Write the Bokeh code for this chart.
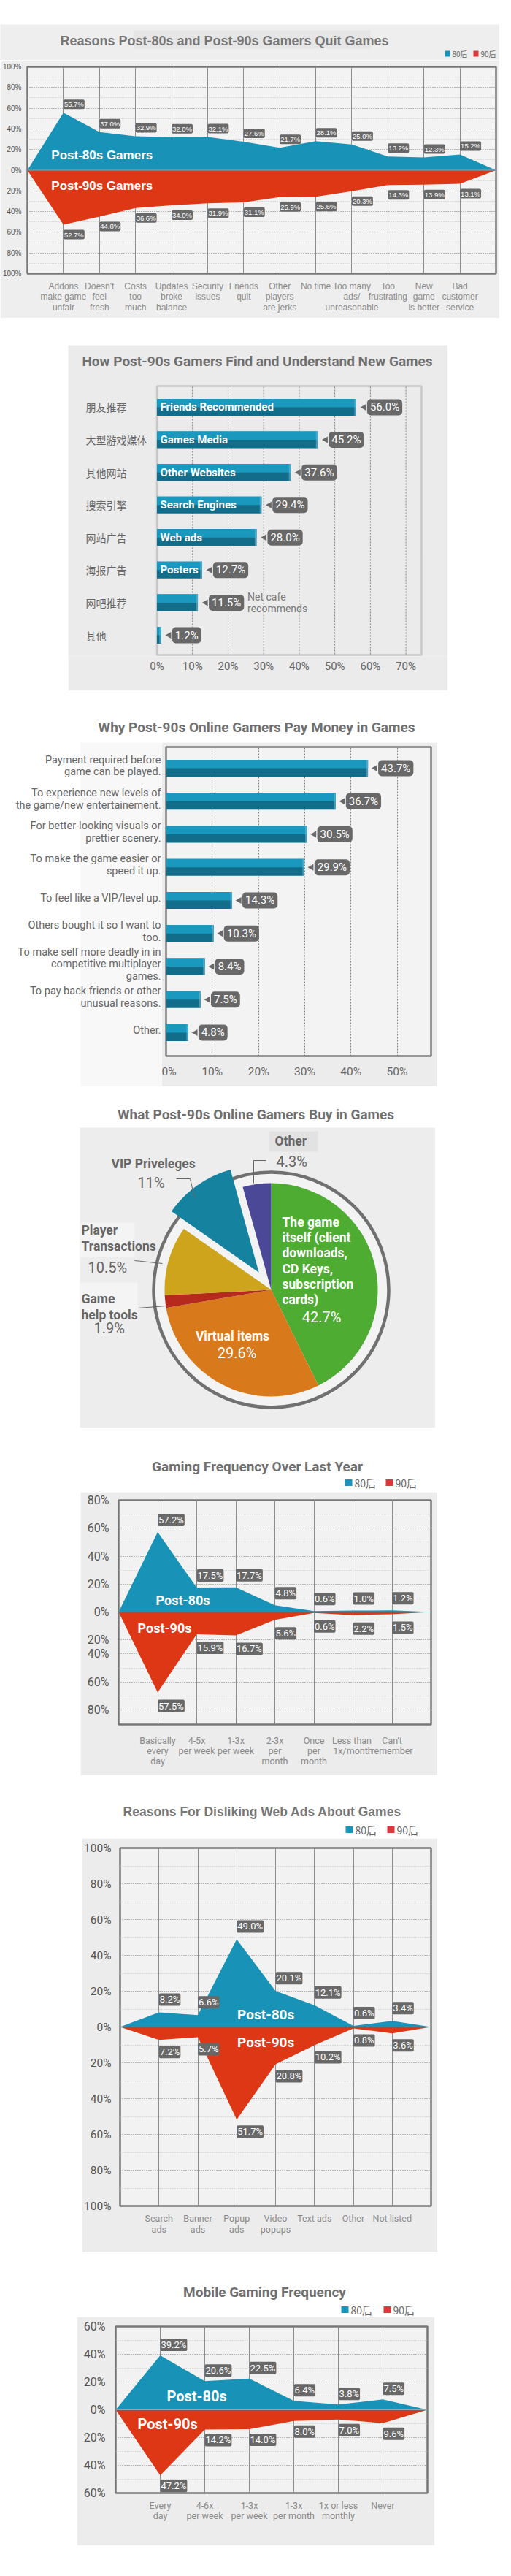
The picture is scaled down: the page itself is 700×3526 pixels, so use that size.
import numpy as np
from bokeh.plotting import figure
from bokeh.layouts import column, row
from bokeh.models import Range1d, FixedTicker, BoxAnnotation, Span, ColumnDataSource, Spacer
from bokeh.core.properties import value
from bokeh.embed import file_html
from bokeh.resources import INLINE

# ======================= DATA =======================
legend_names = ["80后", "90后"]
series_long = ["Post-80s Gamers", "Post-90s Gamers"]
series_short = ["Post-80s", "Post-90s"]

quit_title = "Reasons Post-80s and Post-90s Gamers Quit Games"
quit_cats = ["Addons\nmake game\nunfair", "Doesn't\nfeel\nfresh", "Costs\ntoo\nmuch",
             "Updates\nbroke\nbalance", "Security\nissues", "Friends\nquit",
             "Other\nplayers\nare jerks", "No time", "Too many\nads/\nunreasonable",
             "Too\nfrustrating", "New\ngame\nis better", "Bad\ncustomer\nservice"]
quit_80 = [55.7, 37.0, 32.9, 32.0, 32.1, 27.6, 21.7, 28.1, 25.0, 13.2, 12.3, 15.2]
quit_90 = [52.7, 44.8, 36.6, 34.0, 31.9, 31.1, 25.9, 25.6, 20.3, 14.3, 13.9, 13.1]
quit_yticks = [-100, -80, -60, -40, -20, 0, 20, 40, 60, 80, 100]
quit_yminor = [-90, -70, -50, -30, -10, 10, 30, 50, 70, 90]

find_title = "How Post-90s Gamers Find and Understand New Games"
find_cn = ["朋友推荐", "大型游戏媒体", "其他网站", "搜索引擎", "网站广告", "海报广告", "网吧推荐", "其他"]
find_en = ["Friends Recommended", "Games Media", "Other Websites", "Search Engines",
           "Web ads", "Posters", "", ""]
find_note = ["", "", "", "", "", "", "Net cafe\nrecommends", ""]
find_vals = [56.0, 45.2, 37.6, 29.4, 28.0, 12.7, 11.5, 1.2]
find_xticks = [0, 10, 20, 30, 40, 50, 60, 70]

pay_title = "Why Post-90s Online Gamers Pay Money in Games"
pay_cats = ["Payment required before\ngame can be played.",
            "To experience new levels of\nthe game/new entertainement.",
            "For better-looking visuals or\nprettier scenery.",
            "To make the game easier or\nspeed it up.",
            "To feel like a VIP/level up.",
            "Others bought it so I want to\ntoo.",
            "To make self more deadly in in\ncompetitive multiplayer\ngames.",
            "To pay back friends or other\nunusual reasons.",
            "Other."]
pay_vals = [43.7, 36.7, 30.5, 29.9, 14.3, 10.3, 8.4, 7.5, 4.8]
pay_xticks = [0, 10, 20, 30, 40, 50]

buy_title = "What Post-90s Online Gamers Buy in Games"
buy_cats = ["The game\nitself (client\ndownloads,\nCD Keys,\nsubscription\ncards)",
            "Virtual items", "Game\nhelp tools", "Player\nTransactions", "VIP Priveleges", "Other"]
buy_vals = [42.7, 29.6, 1.9, 10.5, 11.0, 4.3]

freq_title = "Gaming Frequency Over Last Year"
freq_cats = ["Basically\nevery\nday", "4-5x\nper week", "1-3x\nper week", "2-3x\nper\nmonth",
             "Once\nper\nmonth", "Less  than\n1x/month", "Can't\nremember"]
freq_80 = [57.2, 17.5, 17.7, 4.8, 0.6, 1.0, 1.2]
freq_90 = [57.5, 15.9, 16.7, 5.6, 0.6, 2.2, 1.5]
freq_yticks = [80, 60, 40, 20, 0, -20, -30, -50, -70]
freq_ylabels = ["80%", "60%", "40%", "20%", "0%", "20%", "40%", "60%", "80%"]
freq_yminor = [70, 50, 30, 10, -10, -40, -60]

ads_title = "Reasons For Disliking Web Ads About Games"
ads_cats = ["Search\nads", "Banner\nads", "Popup\nads", "Video\npopups", "Text ads", "Other", "Not listed"]
ads_80 = [8.2, 6.6, 49.0, 20.1, 12.1, 0.6, 3.4]
ads_90 = [7.2, 5.7, 51.7, 20.8, 10.2, 0.8, 3.6]
ads_yticks = [-100, -80, -60, -40, -20, 0, 20, 40, 60, 80, 100]
ads_yminor = [-90, -70, -50, -30, -10, 10, 30, 50, 70, 90]

mob_title = "Mobile Gaming Frequency"
mob_cats = ["Every\nday", "4-6x\nper week", "1-3x\nper week", "1-3x\nper month", "1x or less\nmonthly", "Never"]
mob_80 = [39.2, 20.6, 22.5, 6.4, 3.8, 7.5]
mob_90 = [47.2, 14.2, 14.0, 8.0, 7.0, 9.6]
mob_yticks = [-60, -40, -20, 0, 20, 40, 60]
mob_yminor = [-50, -30, -10, 10, 30, 50]

# ======================= STYLE =======================
BLUE = "#1893b7"
RED = "#dd3716"
LEG_BLUE = "#1a93bb"
LEG_RED = "#d8393a"
BOXC = "#686868"
TITLE_C = "#6f6f6f"
BAR_DARK = "#116d8a"
BAR_LIGHT = "#1a98be"


def hide_guides(p):
    p.xaxis.visible = False
    p.yaxis.visible = False
    p.xgrid.visible = False
    p.ygrid.visible = False


def header(y0, y1, bg="white"):
    """Strip holding a title/legend; its coordinates are page pixels."""
    p = figure(width=684, height=y1 - y0, x_range=Range1d(8, 692), y_range=Range1d(y1, y0),
               min_border_left=0, min_border_right=0, min_border_top=0, min_border_bottom=0,
               output_backend="svg", toolbar_location=None, border_fill_color=bg,
               background_fill_color=bg, outline_line_color=None)
    hide_guides(p)
    return p


def add_title(p, x, y, text, size, color=TITLE_C, font="Roboto"):
    p.text(x=[x], y=[y], text=[text], text_font=value(font), text_font_style="bold",
           text_font_size=f"{size}px", text_color=color, text_align="center",
           text_baseline="middle")


def add_legend(p, xb, xr_, y, size, sq_w=10, sq_h=9):
    p.quad(left=[xb, xr_], right=[xb + sq_w, xr_ + sq_w], top=[y - sq_h / 2] * 2,
           bottom=[y + sq_h / 2] * 2, fill_color=[LEG_BLUE, LEG_RED], line_color=None)
    p.text(x=[xb + sq_w + 3, xr_ + sq_w + 3], y=[y, y], text=legend_names,
           text_font=value("Noto Sans CJK SC"), text_font_size=f"{size}px",
           text_color="#666666", text_align="left", text_baseline="middle")


class PFig:
    """Panel figure covering page pixels x0..x1, y0..y1; plot frame at L..R, T..B."""
    def __init__(self, x0, x1, y0, y1, L, R, T, B, xr, yr, border, bg):
        self.x0, self.h = x0, y1 - y0
        self.L, self.R, self.T, self.B = L, R, T, B
        self.xr, self.yr = xr, yr
        p = figure(width=x1 - x0, height=y1 - y0,
                   x_range=Range1d(*xr), y_range=Range1d(*yr),
                   min_border_left=L - x0, min_border_right=x1 - R,
                   min_border_top=T - y0, min_border_bottom=y1 - B,
                   output_backend="svg", toolbar_location=None,
                   border_fill_color=border, background_fill_color=bg,
                   outline_line_color=None)
        hide_guides(p)
        self.p = p

    def dx(self, px):
        return self.xr[0] + (px - self.L) * (self.xr[1] - self.xr[0]) / (self.R - self.L)

    def dy(self, py):
        return self.yr[1] - (py - self.T) * (self.yr[1] - self.yr[0]) / (self.B - self.T)

    def box(self, x0, x1, y0, y1, color, level="image", line=None, lw=0):
        self.p.add_layout(BoxAnnotation(left=self.dx(x0), right=self.dx(x1),
                                        top=self.dy(y0), bottom=self.dy(y1),
                                        fill_color=color if color else "white",
                                        fill_alpha=1.0 if color else 0.0,
                                        line_color=line, line_width=lw, level=level))

    def item(self):
        # wrapped in its own row so that the column does not align plot frames
        if self.x0 > 8:
            return row(Spacer(width=self.x0 - 8, height=self.h), self.p, spacing=0)
        return row(self.p, spacing=0)


def axis_style(ax, font, size, color, standoff, lh=1.0):
    ax.visible = True
    ax.axis_line_color = None
    ax.major_tick_line_color = None
    ax.minor_tick_line_color = None
    ax.major_tick_out = 0
    ax.major_tick_in = 0
    ax.minor_tick_out = 0
    ax.minor_tick_in = 0
    ax.major_label_text_font = font
    ax.major_label_text_font_size = f"{size}px"
    ax.major_label_text_color = color
    ax.major_label_standoff = standoff
    ax.major_label_text_line_height = lh


def area_chart(c, cats, v80, v90, yticks, ylabels, yminor, xfont, xsize, xstandoff, xlh,
               yfont, ysize, ystandoff, names, name_pos, name_font, name_size,
               lab_font, lab_size, off80, off90, lab_pad):
    p = c.p
    n = len(cats)
    p.xaxis.ticker = FixedTicker(ticks=list(range(1, n + 1)))
    p.xaxis.major_label_overrides = {i + 1: cats[i] for i in range(n)}
    axis_style(p.xaxis, xfont, xsize, "#8a8a8a", xstandoff, xlh)
    p.yaxis.ticker = FixedTicker(ticks=yticks, minor_ticks=yminor)
    p.yaxis.major_label_overrides = {t: l for t, l in zip(yticks, ylabels)}
    axis_style(p.yaxis, yfont, ysize, "#555555", ystandoff)
    p.xgrid.visible = True
    p.xgrid.ticker = FixedTicker(ticks=list(range(1, n + 1)))
    p.xgrid.grid_line_color = "#8c8c8c"
    p.xgrid.grid_line_width = 1
    p.ygrid.visible = True
    p.ygrid.ticker = FixedTicker(ticks=yticks, minor_ticks=yminor)
    p.ygrid.grid_line_color = "#7d7d7d"
    p.ygrid.grid_line_dash = "1 2"
    p.ygrid.minor_grid_line_color = "#c0c0c0"
    p.ygrid.minor_grid_line_dash = "1 2"
    p.outline_line_color = "#777777"
    p.outline_line_width = 2.5
    src = ColumnDataSource(dict(x=list(range(n + 2)),
                                a=[0] + list(v80) + [0],
                                b=[0] + [-v for v in v90] + [0]))
    p.varea(x="x", y1=0, y2="a", source=src, fill_color=BLUE)
    p.varea(x="x", y1=0, y2="b", source=src, fill_color=RED)
    p.add_layout(Span(location=0, dimension="width", line_color="#86a9b3", line_width=1.2))
    ls = ColumnDataSource(dict(x=list(range(1, n + 1)), y80=list(v80), y90=[-v for v in v90],
                               t80=[f"{v:.1f}%" for v in v80], t90=[f"{v:.1f}%" for v in v90]))
    common = dict(source=ls, text_font=value(lab_font), text_font_size=f"{lab_size}px",
                  text_color="white", background_fill_color=BOXC, padding=lab_pad,
                  border_radius=2)
    p.text(x="x", y="y80", text="t80", anchor="bottom_left", y_offset=-off80, **common)
    p.text(x="x", y="y90", text="t90", anchor="top_left", y_offset=off90, **common)
    (x8, y8), (x9, y9) = name_pos
    p.text(x=[c.dx(x8), c.dx(x9)], y=[c.dy(y8), c.dy(y9)], text=names,
           text_font=value(name_font), text_font_style="bold", text_font_size=f"{name_size}px",
           text_color="white", text_align="left", text_baseline="middle")


def bar_chart(c, vals, ypx_unit, bh_px, box_off, val_size):
    p = c.p
    n = len(vals)
    ys = [n - 1 - i for i in range(n)]
    bh = bh_px / ypx_unit
    xpu = (c.R - c.L) / (c.xr[1] - c.xr[0])
    src = ColumnDataSource(dict(y=ys, v=vals, ytop=[y + bh / 4 for y in ys],
                                tri=[v + (box_off - 4) / xpu for v in vals],
                                cap=[v - 2.5 / xpu for v in vals],
                                t=[f"{v:.1f}%" for v in vals]))
    p.hbar(y="y", left=0, right="v", height=bh, source=src, fill_color=BAR_DARK, line_color=None)
    p.hbar(y="ytop", left=0, right="v", height=bh / 2, source=src, fill_color=BAR_LIGHT,
           line_color=None)
    p.hbar(y="y", left="cap", right="v", height=bh, source=src, fill_color="#6fbcd6",
           fill_alpha=0.55, line_color=None)
    p.scatter(x="tri", y="y", source=src, marker="triangle", angle=np.pi / 2, size=9,
              fill_color=BOXC, line_color=None)
    p.text(x="v", y="y", text="t", source=src, x_offset=box_off, anchor="center_left",
           text_font=value("Roboto"), text_font_size=f"{val_size}px", text_color="white",
           background_fill_color=BOXC, padding=(4, 2), border_radius=5)
    return src


items = []

# ======================= CHART 1 =======================
items.append(Spacer(width=684, height=33))
h1 = header(41, 90, bg="#eeeeee")
h1.quad(left=[191], right=[515], top=[49], bottom=[74], fill_color="#e6e6e6", line_color=None)
add_title(h1, 315, 63, quit_title, 18, "#777777", "Liberation Sans")
add_legend(h1, 617, 656, 81, 10, sq_w=7, sq_h=8)
items.append(row(h1, spacing=0))
c1 = PFig(8, 692, 90, 443, 41, 687, 99, 382, (0, 13), (-100, 100), "#eeeeee", "#f3f3f3")
area_chart(c1, quit_cats, quit_80, quit_90, quit_yticks,
           [f"{abs(t)}%" for t in quit_yticks], quit_yminor,
           "Liberation Sans", 12, 10, 1.05, "Liberation Sans", 10, 8,
           series_long, [(74, 220), (74, 262)], "Liberation Sans", 17,
           "Liberation Sans", 9.5, 5, 7, 1)
items.append(c1.item())
items.append(Spacer(width=684, height=19))

# ======================= CHART 2 =======================
items.append(Spacer(width=684, height=18))
X2U, Y2U = 4.873, 44.58
c2 = PFig(101, 621, 480, 953, 101, 621, 480, 906,
          ((101 - 222.5) / X2U, (621 - 222.5) / X2U),
          (-(906 - 877) / Y2U, 7 + (565 - 480) / Y2U), "#ebebeb", "#ebebeb")
p2 = c2.p
c2.box(222.5, 585, 536, 904, None, level="underlay", line="#7a7a7a", lw=2.5)
p2.segment(x0=find_xticks[1:], x1=find_xticks[1:], y0=c2.dy(537), y1=c2.dy(903),
           line_color="#808080", line_dash="2 2", line_width=1)
p2.xaxis.ticker = FixedTicker(ticks=find_xticks)
p2.xaxis.major_label_overrides = {t: f"{t}%" for t in find_xticks}
axis_style(p2.xaxis, "Roboto", 15, "#666666", 4)
add_title(p2, c2.dx(360), c2.dy(502), find_title, 19)
s2 = bar_chart(c2, find_vals, Y2U, 23, 15, 15)
s2.data["en"] = find_en
s2.data["note"] = find_note
s2.data["cn"] = find_cn
p2.text(x=c2.dx(227), y="y", text="en", source=s2, text_font=value("Roboto"),
        text_font_style="bold", text_font_size="15px", text_color="white",
        text_align="left", text_baseline="middle")
p2.text(x="v", y="y", text="note", source=s2, x_offset=68, text_font=value("Roboto"),
        text_font_size="14px", text_color="#777777", text_align="left",
        text_baseline="middle", text_line_height=0.95)
p2.text(x=c2.dx(125), y="y", text="cn", source=s2, text_font=value("Noto Sans CJK SC"),
        text_font_size="14px", text_color="#666666", text_align="left", text_baseline="middle")
items.append(c2.item())
items.append(Spacer(width=684, height=12))

# ======================= CHART 3 =======================
h3 = header(965, 1024)
add_title(h3, 359, 1003, pay_title, 19)
items.append(row(h3, spacing=0))
X3U, Y3U = 6.33, 45.24
c3 = PFig(229, 607, 1024, 1495, 235, 598, 1030, 1453,
          (0, (598 - 235) / X3U), (-(1453 - 1421) / Y3U, 8 + (1059 - 1030) / Y3U),
          "#ececec", "#f3f3f3")
p3 = c3.p
p3.outline_line_color = "#7a7a7a"
p3.outline_line_width = 2.5
p3.xaxis.ticker = FixedTicker(ticks=pay_xticks)
p3.xaxis.major_label_overrides = {t: f"{t}%" for t in pay_xticks}
axis_style(p3.xaxis, "Roboto", 15.5, "#666666", 12)
p3.xgrid.visible = True
p3.xgrid.ticker = FixedTicker(ticks=pay_xticks[1:])
p3.xgrid.grid_line_color = "#808080"
p3.xgrid.grid_line_dash = "2 2"
s3 = bar_chart(c3, pay_vals, Y3U, 23, 14, 15)
# label column left of the plot, sharing the same vertical data scale
l3 = figure(width=229 - 8, height=1495 - 1024, x_range=Range1d(8, 229),
            y_range=Range1d(-(1495 - 1421) / Y3U, 8 + (1059 - 1024) / Y3U),
            min_border_left=0, min_border_right=0, min_border_top=0, min_border_bottom=0,
            output_backend="svg", toolbar_location=None, border_fill_color="white",
            background_fill_color="white", outline_line_color=None)
hide_guides(l3)
l3.quad(left=[118], right=[229], top=[l3.y_range.end], bottom=[l3.y_range.start],
        fill_color="#f8f8f8", line_color=None)
lab3 = ColumnDataSource(dict(y=[y + 3 / Y3U for y in s3.data["y"]], cat=pay_cats))
l3.text(x=228, y="y", text="cat", source=lab3, text_font=value("Roboto"),
        text_font_size="14.5px", text_color="#666666", text_align="right",
        text_baseline="middle", text_line_height=0.98)
items.append(row(row(l3, spacing=0), row(c3.p, spacing=0), spacing=0))
items.append(Spacer(width=684, height=10))

# ======================= CHART 4 (pie) =======================
h4 = header(1505, 1551)
add_title(h4, 358, 1533, buy_title, 19)
items.append(row(h4, spacing=0))
R4 = 146.0
CX4, CY4 = 379, 1773
c4 = PFig(117, 604, 1551, 1962, 117, 604, 1551, 1962,
          ((117 - CX4) / R4, (604 - CX4) / R4), ((CY4 - 1962) / R4, (CY4 - 1551) / R4),
          "#ededed", "#ededed")
p4 = c4.p
buy_colors = ["#4dac31", "#d8791b", "#b52a1d", "#cda41c", "#15829f", "#4c4898"]
buy_explode = [0, 0, 0, 0, 0.2, 0]
cum = np.concatenate([[0], np.cumsum(buy_vals)]) / 100.0
starts = np.pi / 2 - 2 * np.pi * cum[:-1]
ends = np.pi / 2 - 2 * np.pi * cum[1:]
mids = (starts + ends) / 2
ws = ColumnDataSource(dict(cx=[e * np.cos(m) for e, m in zip(buy_explode, mids)],
                           cy=[e * np.sin(m) for e, m in zip(buy_explode, mids)],
                           s=list(starts), e=list(ends), c=buy_colors))
p4.circle(x=[0], y=[0], radius=161 / R4, fill_color="#f3f3f3", line_color="#707070",
          line_width=4.5)
p4.wedge(x="cx", y="cy", radius=1.0, start_angle="s", end_angle="e", direction="clock",
         fill_color="c", line_color=None, source=ws)
c4.box(376, 443, 1556, 1584, "#e2e2e2", level="underlay")
c4.box(117, 192, 1681, 1728, "#f4f4f4", level="underlay")
c4.box(117, 196, 1763, 1811, "#f4f4f4", level="underlay")
leaders = [[(372, 1596), (355, 1596), (355, 1627)],
           [(249, 1621), (268, 1621), (274, 1647)],
           [(192, 1733), (230, 1737)],
           [(196, 1798), (235, 1795)]]
for ln in leaders:
    p4.line([c4.dx(a) for a, b in ln], [c4.dy(b) for a, b in ln], line_color="#666666",
            line_width=1)
buy_text_pos = [(394, 1733.5, "left", 448, 1810, "center", "white"),
                (326, 1836, "center", 332, 1859, "center", "white"),
                (119, 1796.5, "left", 136, 1825, "left", "#666666"),
                (119, 1702.5, "left", 128, 1742, "left", "#666666"),
                (160, 1600, "left", 196, 1626, "left", "#666666"),
                (384, 1569, "left", 386, 1597, "left", "#666666")]
for cat, v, (nx, ny, na, vx, vy, va, col) in zip(buy_cats, buy_vals, buy_text_pos):
    p4.text(x=[c4.dx(nx)], y=[c4.dy(ny)], text=[cat], text_font=value("Roboto"),
            text_font_style="bold", text_font_size="17.5px", text_color=col, text_align=na,
            text_baseline="middle", text_line_height=1.06)
    p4.text(x=[c4.dx(vx)], y=[c4.dy(vy)], text=[f"{v:g}%"], text_font=value("Roboto"),
            text_font_size="20px", text_color=col, text_align=va, text_baseline="middle")
items.append(c4.item())
items.append(Spacer(width=684, height=28))

# ======================= CHART 5 =======================
h5 = header(1990, 2050)
add_title(h5, 360, 2015, freq_title, 19)
add_legend(h5, 480, 536, 2037, 14)
items.append(row(h5, spacing=0))
c5 = PFig(118, 607, 2050, 2438, 170, 598, 2061, 2368, (0, 8), (-80.5, 80), "#ececec", "#f2f2f2")
area_chart(c5, freq_cats, freq_80, freq_90, freq_yticks, freq_ylabels, freq_yminor,
           "Roboto", 12.5, 14, 0.95, "Roboto", 16, 13,
           series_short, [(221, 2198), (196, 2236)], "Roboto", 18,
           "Roboto", 13, 8, 10, 1)
items.append(c5.item())
items.append(Spacer(width=684, height=27))

# ======================= CHART 6 =======================
h6 = header(2465, 2524)
add_title(h6, 367, 2487, ads_title, 17.5, "#777777", "Liberation Sans")
add_legend(h6, 481, 538, 2512, 14)
items.append(row(h6, spacing=0))
c6 = PFig(120, 607, 2524, 3090, 171, 598, 2537, 3027, (0, 8), (-100, 100), "#ececec", "#f2f2f2")
area_chart(c6, ads_cats, ads_80, ads_90, ads_yticks, [f"{abs(t)}%" for t in ads_yticks],
           ads_yminor, "Roboto", 12.5, 9, 1.05, "Roboto", 15.5, 12,
           series_short, [(332, 2765), (332, 2803)], "Roboto", 19,
           "Roboto", 13, 9, 8, 1)
items.append(c6.item())
items.append(Spacer(width=684, height=15))

# ======================= CHART 7 =======================
h7 = header(3105, 3179)
add_title(h7, 370, 3145, mob_title, 19)
add_legend(h7, 475, 533, 3169, 14)
items.append(row(h7, spacing=0))
c7 = PFig(113, 603, 3179, 3492, 166, 593, 3192, 3420, (0, 7), (-60, 60), "#ececec", "#f2f2f2")
area_chart(c7, mob_cats, mob_80, mob_90, mob_yticks, [f"{abs(t)}%" for t in mob_yticks],
           mob_yminor, "Roboto", 12.5, 9, 0.95, "Roboto", 16, 14,
           series_short, [(236, 3287), (196, 3325)], "Roboto", 20,
           "Roboto", 13, 6, 6, 1)
items.append(c7.item())

layout = column(*items, spacing=0)
open("out.html", "w").write(file_html(layout, INLINE))
